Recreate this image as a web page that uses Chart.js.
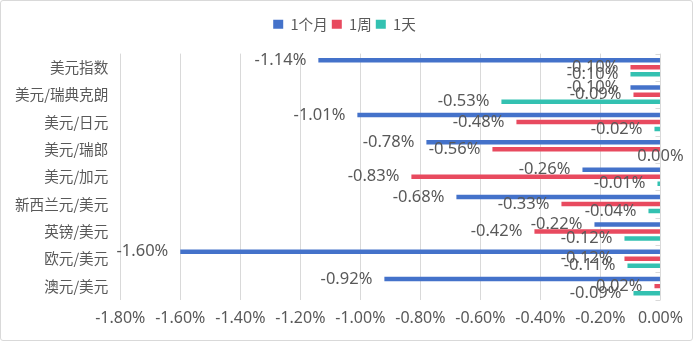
<!DOCTYPE html>
<html>
<head>
<meta charset="utf-8">
<script src="https://cdn.jsdelivr.net/npm/chart.js@4/dist/chart.umd.min.js"></script>
<style>
  body { margin: 0; background: #fff; }
  #box { width: 693px; height: 341px; box-sizing: border-box; border: 1px solid #d9d9d9; border-radius: 3px; position: relative; }
</style>
</head>
<body>
<div id="box"><canvas id="fxChart"></canvas></div>
<script>
var categories = ['美元指数', '美元/瑞典克朗', '美元/日元', '美元/瑞郎', '美元/加元', '新西兰元/美元', '英镑/美元', '欧元/美元', '澳元/美元'];
var monthChange = [-1.14, -0.10, -1.01, -0.78, -0.26, -0.68, -0.22, -1.60, -0.92];
var weekChange = [-0.10, -0.09, -0.48, -0.56, -0.83, -0.33, -0.42, -0.12, -0.02];
var dayChange = [-0.10, -0.53, -0.02, 0.00, -0.01, -0.04, -0.12, -0.11, -0.09];
var seriesNames = ['1个月', '1周', '1天'];

// 数据标签：负值放在柱子左端外侧，0 居中
var barLabels = {
    id: 'barLabels',
    afterDatasetsDraw: function (chart) {
        var ctx = chart.ctx;
        ctx.save();
        ctx.font = '16.5px "Noto Sans"';
        ctx.fillStyle = '#595959';
        ctx.textBaseline = 'middle';
        chart.data.datasets.forEach(function (ds, i) {
            chart.getDatasetMeta(i).data.forEach(function (bar, j) {
                var v = ds.data[j];
                var txt = v.toFixed(2) + '%';
                if (v === 0) {
                    ctx.textAlign = 'center';
                    ctx.fillText(txt, bar.x, bar.y);
                } else {
                    ctx.textAlign = 'right';
                    ctx.fillText(txt, bar.x - 12, bar.y);
                }
            });
        });
        ctx.restore();
    }
};

// 纵轴（0 处）上的小刻度
var axisTicks = {
    id: 'axisTicks',
    afterDatasetsDraw: function (chart) {
        var ctx = chart.ctx, y = chart.scales.y, x0 = chart.scales.x.getPixelForValue(0);
        var step = (y.bottom - y.top) / categories.length;
        ctx.save();
        ctx.strokeStyle = '#d9d9d9';
        ctx.lineWidth = 1;
        ctx.beginPath();
        for (var i = 0; i <= categories.length; i++) {
            var py = Math.round(y.top + step * i) + 0.5;
            ctx.moveTo(x0 - 5, py);
            ctx.lineTo(x0, py);
        }
        ctx.stroke();
        ctx.restore();
    }
};

// 图例下方多留点空
var legendSpace = {
    id: 'legendSpace',
    beforeInit: function (chart) {
        var fit = chart.legend.fit;
        chart.legend.fit = function () {
            fit.call(this);
            this.height += 12;
        };
    }
};

var ctx = document.getElementById('fxChart').getContext('2d');
new Chart(ctx, {
    type: 'bar',
    data: {
        labels: categories,
        datasets: [
            { label: seriesNames[0], data: monthChange, backgroundColor: '#4472CA', categoryPercentage: 0.77, barPercentage: 0.64 },
            { label: seriesNames[1], data: weekChange, backgroundColor: '#E84A5F', categoryPercentage: 0.77, barPercentage: 0.64 },
            { label: seriesNames[2], data: dayChange, backgroundColor: '#33C1B1', categoryPercentage: 0.77, barPercentage: 0.64 }
        ]
    },
    options: {
        indexAxis: 'y',
        responsive: true,
        maintainAspectRatio: false,
        animation: false,
        layout: { padding: { left: 2, right: 6, top: 12, bottom: 3 } },
        plugins: {
            legend: {
                position: 'top',
                labels: {
                    boxWidth: 10,
                    boxHeight: 9,
                    padding: 4,
                    color: '#595959',
                    font: { size: 14.6, family: '"Noto Sans CJK SC"' }
                }
            },
            tooltip: { enabled: false }
        },
        scales: {
            x: {
                min: -1.8,
                max: 0,
                ticks: {
                    stepSize: 0.2,
                    padding: 9,
                    color: '#595959',
                    font: { size: 16, family: '"Noto Sans"' },
                    callback: function (v) { return Number(v).toFixed(2) + '%'; }
                },
                grid: { color: '#d9d9d9', drawTicks: false },
                border: { display: false }
            },
            y: {
                ticks: {
                    padding: 12,
                    color: '#595959',
                    font: { size: 14.6, family: '"Noto Sans CJK SC"' }
                },
                grid: { display: false, drawTicks: false },
                border: { display: false }
            }
        }
    },
    plugins: [barLabels, axisTicks, legendSpace]
});
</script>
</body>
</html>
